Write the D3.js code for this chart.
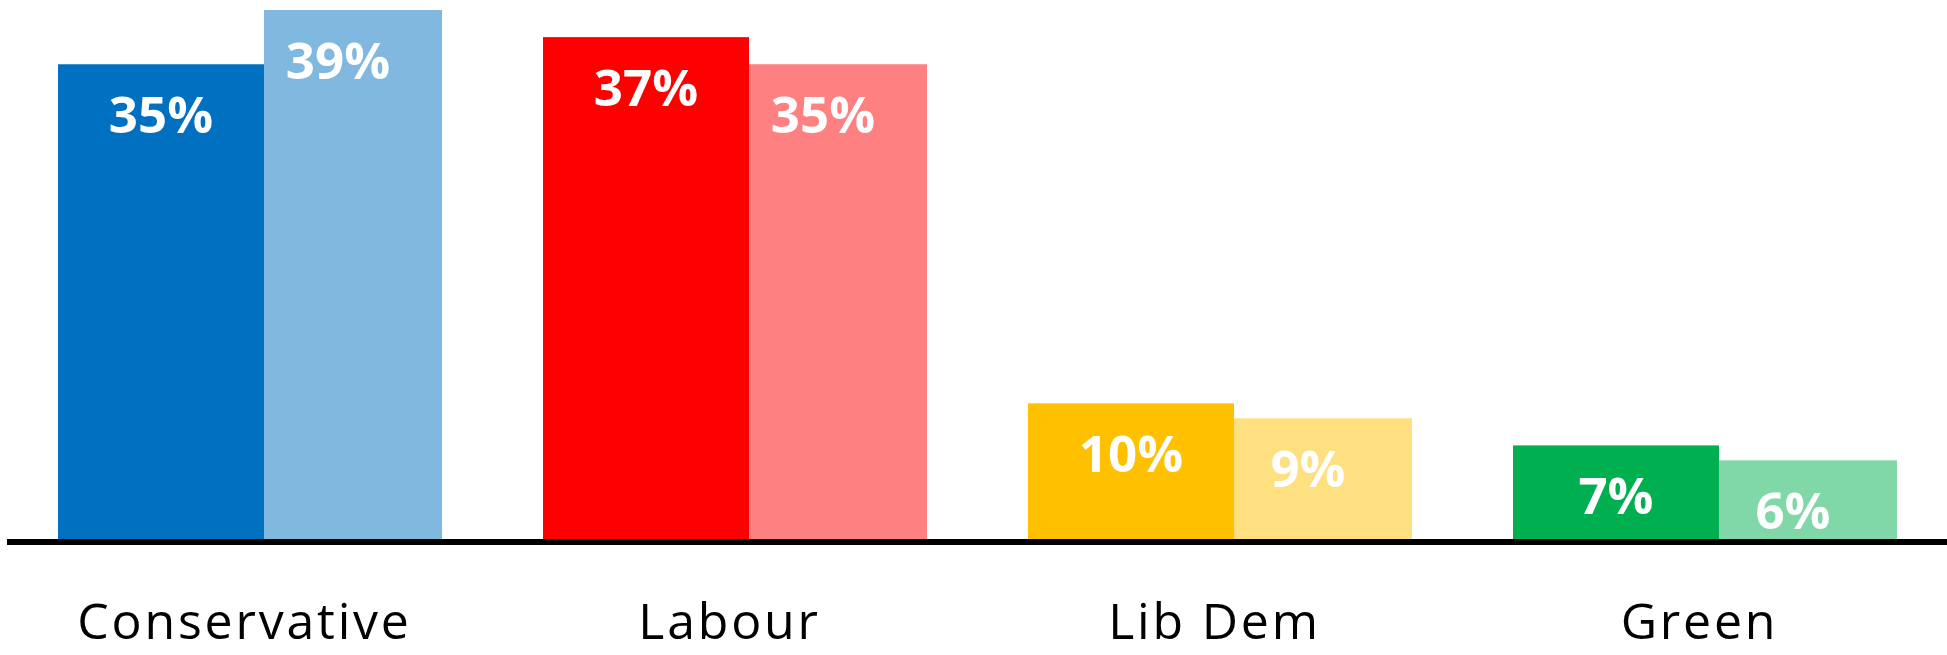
<!DOCTYPE html>
<html>
<head>
<style>
  body { margin: 0; background: #fff; }
  svg { display: block; }
</style>
</head>
<body>
<div id="chart"></div>
<script src="https://d3js.org/d3.v7.min.js"></script>
<script>
// data
var parties = ["Conservative", "Labour", "Lib Dem", "Green"];
var first = [35, 37, 10, 6.9];     // darker bar
var second = [39, 35, 8.9, 5.8];   // lighter bar
var darkColors = ["#0070C0", "#FF0000", "#FFC000", "#00B050"];
var lightColors = ["#80B8E0", "#FF8080", "#FFE080", "#80D8A8"];

var width = 1947, height = 655;
var baseY = 539;

var svg = d3.select("#chart").append("svg")
  .attr("width", width)
  .attr("height", height);

var x = d3.scaleBand().domain(parties).range([7, 1947]);
var y = d3.scaleLinear().domain([0, 39]).range([baseY, 10]);

var rows = parties.map(function(p, i) {
  return { party: p, a: first[i], b: second[i], dark: darkColors[i], light: lightColors[i] };
});

var g = svg.selectAll("g.party").data(rows).enter().append("g")
  .attr("class", "party")
  .attr("transform", function(d) { return "translate(" + x(d.party) + ",0)"; });

// darker bar
g.append("rect")
  .attr("x", 51).attr("width", 206)
  .attr("y", function(d) { return y(d.a); })
  .attr("height", function(d) { return baseY - y(d.a); })
  .attr("fill", function(d) { return d.dark; });

// lighter bar
g.append("rect")
  .attr("x", 257).attr("width", 178)
  .attr("y", function(d) { return y(d.b); })
  .attr("height", function(d) { return baseY - y(d.b); })
  .attr("fill", function(d) { return d.light; });

// value labels
g.append("text")
  .attr("x", 154)
  .attr("y", function(d) { return y(d.a) + 69; })
  .attr("text-anchor", "middle")
  .attr("font-family", "Open Sans, sans-serif")
  .attr("font-weight", "bold")
  .attr("font-size", "51px")
  .attr("fill", "#fff")
  .text(function(d) { return Math.round(d.a) + "%"; });

g.append("text")
  .attr("x", 331)
  .attr("y", function(d) { return y(d.b) + 69; })
  .attr("text-anchor", "middle")
  .attr("font-family", "Open Sans, sans-serif")
  .attr("font-weight", "bold")
  .attr("font-size", "51px")
  .attr("fill", "#fff")
  .text(function(d) { return Math.round(d.b) + "%"; });

// baseline
svg.append("line")
  .attr("x1", 7).attr("x2", width)
  .attr("y1", 542).attr("y2", 542)
  .attr("stroke", "#000")
  .attr("stroke-width", 6);

// category labels
g.append("text")
  .attr("x", x.bandwidth() / 2 - 5)
  .attr("y", 639)
  .attr("text-anchor", "middle")
  .attr("font-family", "Open Sans, sans-serif")
  .attr("font-size", "50px")
  .attr("letter-spacing", "2.8px")
  .attr("fill", "#000")
  .text(function(d) { return d.party; });
</script>
</body>
</html>
